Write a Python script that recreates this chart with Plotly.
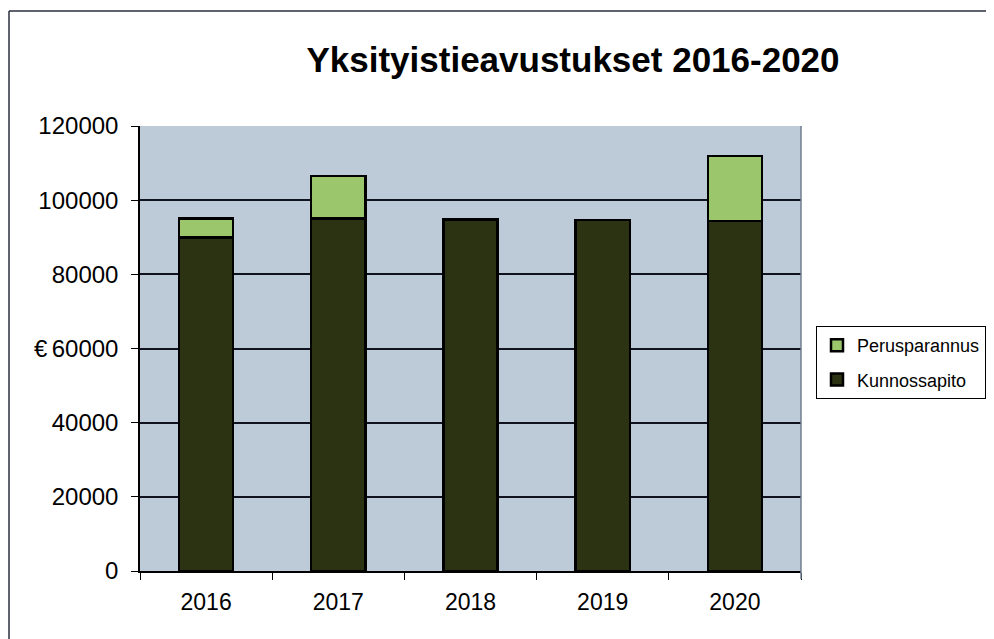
import plotly.graph_objects as go

years = ["2016", "2017", "2018", "2019", "2020"]
kunnossapito = [90000, 95000, 94800, 94700, 94400]
perusparannus = [5000, 11500, None, None, 17500]
y_ticks = [0, 20000, 40000, 60000, 80000, 100000, 120000]

fig = go.Figure()
fig.add_trace(go.Bar(
    x=years, y=kunnossapito, name="Kunnossapito", legendgroup="k", legendrank=2,
    marker=dict(color="#2c3313", line=dict(color="#000000", width=2.5)),
))
fig.add_trace(go.Bar(
    x=years, y=perusparannus, name="Perusparannus", legendgroup="p", legendrank=1,
    marker=dict(color="#9cc66c", line=dict(color="#000000", width=2.5)),
))

# page has an 8px body offset
W, H = 986, 631
L, T = 132, 118
R, B = W - 793, H - 563
pw, ph = W - L - R, H - T - B

fig.update_layout(
    width=W, height=H,
    barmode="stack", bargap=0.59,
    paper_bgcolor="white", plot_bgcolor="#bdcad7",
    margin=dict(l=L, r=R, t=T, b=B, autoexpand=False),
    font=dict(family="Liberation Sans, Arial, sans-serif", color="#000000"),
    title=dict(text="<b>Yksityistieavustukset 2016-2020</b>",
               font=dict(size=35, color="#000000"),
               x=(565 - L) / pw, xref="paper", xanchor="center",
               y=1 - 52 / H, yref="container", yanchor="middle"),
    showlegend=True,
    legend=dict(traceorder="grouped", tracegroupgap=8,
                x=(808 - L) / pw, xanchor="left",
                y=1 - (318 - T) / ph, yanchor="top",
                bordercolor="#000000", borderwidth=1, bgcolor="white",
                font=dict(size=18), itemwidth=30),
    xaxis=dict(type="category", showline=True, linecolor="#000000", linewidth=1.5,
               mirror=False, ticks="outside", tickson="boundaries", ticklen=7,
               tickcolor="#000000", tickfont=dict(size=23), showgrid=False,
               ticklabelstandoff=10),
    yaxis=dict(range=[0, 120000], tickvals=y_ticks, ticktext=[str(v) for v in y_ticks],
               showline=True, linecolor="#000000", linewidth=1.5,
               ticks="outside", ticklen=7, tickcolor="#000000",
               tickfont=dict(size=24), showgrid=True, gridcolor="#10121e", gridwidth=1.5,
               zeroline=False, ticklabelstandoff=8),
    annotations=[dict(text="€", x=(33 - L) / pw, xref="paper", y=60000, yref="y",
                      showarrow=False, font=dict(size=24), xanchor="center", yanchor="middle")],
    shapes=[
        dict(type="line", xref="paper", yref="paper", x0=1, x1=1, y0=-8 / ph, y1=1,
             line=dict(color="#6f7c90", width=1.5)),
        dict(type="line", xref="paper", yref="paper", x0=(1 - L) / pw, x1=(W - L) / pw,
             y0=1 + (T - 3) / ph, y1=1 + (T - 3) / ph, line=dict(color="#2a2f40", width=1.5)),
        dict(type="line", xref="paper", yref="paper", x0=(1 - L) / pw, x1=(1 - L) / pw,
             y0=1 + (T - 3) / ph, y1=-B / ph, line=dict(color="#2a2f40", width=1.5)),
    ],
)

fig.write_html("out.html")
